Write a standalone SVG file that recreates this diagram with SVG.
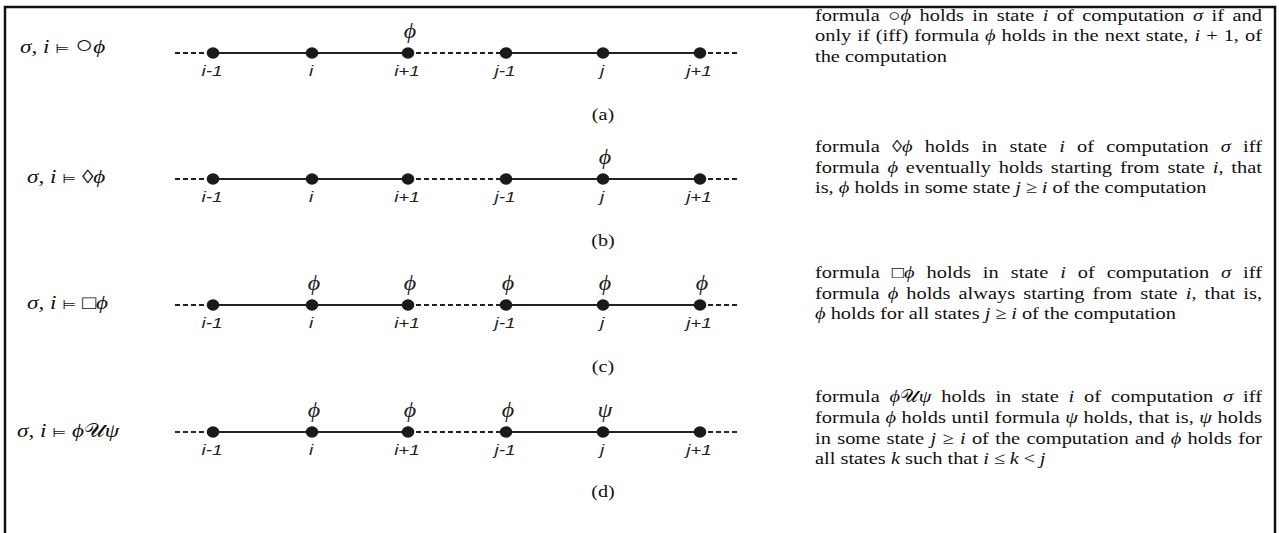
<svg xmlns="http://www.w3.org/2000/svg" width="1279" height="533" viewBox="0 0 1279 533">
<style>
.frame{stroke:#111;stroke-width:2.5;fill:none}
.solid{stroke:#222;stroke-width:1.8}
.dash{stroke:#222;stroke-width:1.8;stroke-dasharray:5 3}
.dot{fill:#1a1a1a}
.lbl{font-family:"Liberation Sans",Arial,sans-serif;font-style:italic;font-size:15.5px;text-anchor:middle;fill:#222}
.phi{font-family:"Liberation Serif","DejaVu Serif",serif;font-style:italic;font-size:20px;text-anchor:middle;fill:#222}
.cap{font-family:"Liberation Serif",serif;font-size:16.5px;text-anchor:middle;fill:#111}
.formula{font-family:"Liberation Serif","DejaVu Serif",serif;font-size:19px;fill:#111}
.desc{font-family:"Liberation Serif","DejaVu Serif",serif;font-size:17px;fill:#111}
.it{font-style:italic}
.mod{font-family:"DejaVu Sans",sans-serif;font-size:13px}
.big{font-size:25px}
</style>
<defs>
<ellipse id="dotshape" rx="6.3" ry="5.8" class="dot"/>
</defs>
<path class="frame" d="M5,533 V7 H1275 V533"/>

<g id="connectors">
<g id="conn-a"><line class="dash" x1="175" y1="53" x2="213" y2="53"/><line class="solid" x1="213" y1="53" x2="408" y2="53"/><line class="dash" x1="408" y1="53" x2="506" y2="53"/><line class="solid" x1="506" y1="53" x2="700" y2="53"/><line class="dash" x1="700" y1="53" x2="740" y2="53"/></g>
<g id="conn-b"><line class="dash" x1="175" y1="179" x2="213" y2="179"/><line class="solid" x1="213" y1="179" x2="408" y2="179"/><line class="dash" x1="408" y1="179" x2="506" y2="179"/><line class="solid" x1="506" y1="179" x2="700" y2="179"/><line class="dash" x1="700" y1="179" x2="740" y2="179"/></g>
<g id="conn-c"><line class="dash" x1="175" y1="305" x2="213" y2="305"/><line class="solid" x1="213" y1="305" x2="408" y2="305"/><line class="dash" x1="408" y1="305" x2="506" y2="305"/><line class="solid" x1="506" y1="305" x2="700" y2="305"/><line class="dash" x1="700" y1="305" x2="740" y2="305"/></g>
<g id="conn-d"><line class="dash" x1="175" y1="432" x2="213" y2="432"/><line class="solid" x1="213" y1="432" x2="408" y2="432"/><line class="dash" x1="408" y1="432" x2="506" y2="432"/><line class="solid" x1="506" y1="432" x2="700" y2="432"/><line class="dash" x1="700" y1="432" x2="740" y2="432"/></g>
</g>

<!-- Row (a) -->
<g id="row-a">
<text class="formula" transform="matrix(1.22 0 0 1 20 53)"><tspan class="it">σ</tspan>, <tspan class="it">i</tspan> <tspan class="mod">⊨</tspan> <tspan class="big">○</tspan><tspan class="it">ϕ</tspan></text>
<g id="a-n1"><use href="#dotshape" x="213" y="53"/><text class="lbl" transform="matrix(1.22 0 0 1 212 76)">i-1</text></g>
<g id="a-n2"><use href="#dotshape" x="312" y="53"/><text class="lbl" transform="matrix(1.22 0 0 1 311 76)">i</text></g>
<g id="a-n3"><use href="#dotshape" x="408" y="53"/><text class="lbl" transform="matrix(1.22 0 0 1 407 76)">i+1</text><text class="phi" transform="matrix(1.2 0 0 1 410 38)">ϕ</text></g>
<g id="a-n4"><use href="#dotshape" x="506" y="53"/><text class="lbl" transform="matrix(1.22 0 0 1 505 76)">j-1</text></g>
<g id="a-n5"><use href="#dotshape" x="603" y="53"/><text class="lbl" transform="matrix(1.22 0 0 1 602 76)">j</text></g>
<g id="a-n6"><use href="#dotshape" x="700" y="53"/><text class="lbl" transform="matrix(1.22 0 0 1 699 76)">j+1</text></g>
<text class="cap" transform="matrix(1.22 0 0 1 603 120)">(a)</text>
<text class="desc" transform="matrix(1.2 0 0 1 815 20.5)" word-spacing="2.75" textLength="372.5" lengthAdjust="spacing">formula ○<tspan class="it">ϕ</tspan> holds in state <tspan class="it">i</tspan> of computation <tspan class="it">σ</tspan> if and</text>
<text class="desc" transform="matrix(1.2 0 0 1 815 41)" word-spacing="0.76" textLength="372.5" lengthAdjust="spacing">only if (iff) formula <tspan class="it">ϕ</tspan> holds in the next state, <tspan class="it">i</tspan> + 1, of</text>
<text class="desc" transform="matrix(1.2 0 0 1 815 61.5)">the computation</text>
</g>

<!-- Row (b) -->
<g id="row-b">
<text class="formula" transform="matrix(1.22 0 0 1 27 183)"><tspan class="it">σ</tspan>, <tspan class="it">i</tspan> <tspan class="mod">⊨</tspan> ◊<tspan class="it">ϕ</tspan></text>
<g id="b-n1"><use href="#dotshape" x="213" y="179"/><text class="lbl" transform="matrix(1.22 0 0 1 212 202)">i-1</text></g>
<g id="b-n2"><use href="#dotshape" x="312" y="179"/><text class="lbl" transform="matrix(1.22 0 0 1 311 202)">i</text></g>
<g id="b-n3"><use href="#dotshape" x="408" y="179"/><text class="lbl" transform="matrix(1.22 0 0 1 407 202)">i+1</text></g>
<g id="b-n4"><use href="#dotshape" x="506" y="179"/><text class="lbl" transform="matrix(1.22 0 0 1 505 202)">j-1</text></g>
<g id="b-n5"><use href="#dotshape" x="603" y="179"/><text class="lbl" transform="matrix(1.22 0 0 1 602 202)">j</text><text class="phi" transform="matrix(1.2 0 0 1 605 164)">ϕ</text></g>
<g id="b-n6"><use href="#dotshape" x="700" y="179"/><text class="lbl" transform="matrix(1.22 0 0 1 699 202)">j+1</text></g>
<text class="cap" transform="matrix(1.22 0 0 1 603 246)">(b)</text>
<text class="desc" transform="matrix(1.2 0 0 1 815 152)" word-spacing="5.8" textLength="372.5" lengthAdjust="spacing">formula ◊<tspan class="it">ϕ</tspan> holds in state <tspan class="it">i</tspan> of computation <tspan class="it">σ</tspan> iff</text>
<text class="desc" transform="matrix(1.2 0 0 1 815 172.5)" word-spacing="2.3" textLength="372.5" lengthAdjust="spacing">formula <tspan class="it">ϕ</tspan> eventually holds starting from state <tspan class="it">i</tspan>, that</text>
<text class="desc" transform="matrix(1.2 0 0 1 815 193)">is, <tspan class="it">ϕ</tspan> holds in some state <tspan class="it">j</tspan><tspan dx="4">≥</tspan><tspan class="it" dx="4">i</tspan> of the computation</text>
</g>

<!-- Row (c) -->
<g id="row-c">
<text class="formula" transform="matrix(1.22 0 0 1 27 309)"><tspan class="it">σ</tspan>, <tspan class="it">i</tspan> <tspan class="mod">⊨</tspan> □<tspan class="it">ϕ</tspan></text>
<g id="c-n1"><use href="#dotshape" x="213" y="305"/><text class="lbl" transform="matrix(1.22 0 0 1 212 328)">i-1</text></g>
<g id="c-n2"><use href="#dotshape" x="312" y="305"/><text class="lbl" transform="matrix(1.22 0 0 1 311 328)">i</text><text class="phi" transform="matrix(1.2 0 0 1 314 290)">ϕ</text></g>
<g id="c-n3"><use href="#dotshape" x="408" y="305"/><text class="lbl" transform="matrix(1.22 0 0 1 407 328)">i+1</text><text class="phi" transform="matrix(1.2 0 0 1 410 290)">ϕ</text></g>
<g id="c-n4"><use href="#dotshape" x="506" y="305"/><text class="lbl" transform="matrix(1.22 0 0 1 505 328)">j-1</text><text class="phi" transform="matrix(1.2 0 0 1 508 290)">ϕ</text></g>
<g id="c-n5"><use href="#dotshape" x="603" y="305"/><text class="lbl" transform="matrix(1.22 0 0 1 602 328)">j</text><text class="phi" transform="matrix(1.2 0 0 1 605 290)">ϕ</text></g>
<g id="c-n6"><use href="#dotshape" x="700" y="305"/><text class="lbl" transform="matrix(1.22 0 0 1 699 328)">j+1</text><text class="phi" transform="matrix(1.2 0 0 1 702 290)">ϕ</text></g>
<text class="cap" transform="matrix(1.22 0 0 1 603 372)">(c)</text>
<text class="desc" transform="matrix(1.2 0 0 1 815 278)" word-spacing="5.6" textLength="372.5" lengthAdjust="spacing">formula □<tspan class="it">ϕ</tspan> holds in state <tspan class="it">i</tspan> of computation <tspan class="it">σ</tspan> iff</text>
<text class="desc" transform="matrix(1.2 0 0 1 815 298.5)" word-spacing="2.5" textLength="372.5" lengthAdjust="spacing">formula <tspan class="it">ϕ</tspan> holds always starting from state <tspan class="it">i</tspan>, that is,</text>
<text class="desc" transform="matrix(1.2 0 0 1 815 319)"><tspan class="it">ϕ</tspan> holds for all states <tspan class="it">j</tspan><tspan dx="4">≥</tspan><tspan class="it" dx="4">i</tspan> of the computation</text>
</g>

<!-- Row (d) -->
<g id="row-d">
<text class="formula" transform="matrix(1.22 0 0 1 17 437)"><tspan class="it">σ</tspan>, <tspan class="it">i</tspan> <tspan class="mod">⊨</tspan> <tspan class="it">ϕ</tspan>𝒰<tspan class="it">ψ</tspan></text>
<g id="d-n1"><use href="#dotshape" x="213" y="432"/><text class="lbl" transform="matrix(1.22 0 0 1 212 455)">i-1</text></g>
<g id="d-n2"><use href="#dotshape" x="312" y="432"/><text class="lbl" transform="matrix(1.22 0 0 1 311 455)">i</text><text class="phi" transform="matrix(1.2 0 0 1 314 417)">ϕ</text></g>
<g id="d-n3"><use href="#dotshape" x="408" y="432"/><text class="lbl" transform="matrix(1.22 0 0 1 407 455)">i+1</text><text class="phi" transform="matrix(1.2 0 0 1 410 417)">ϕ</text></g>
<g id="d-n4"><use href="#dotshape" x="506" y="432"/><text class="lbl" transform="matrix(1.22 0 0 1 505 455)">j-1</text><text class="phi" transform="matrix(1.2 0 0 1 508 417)">ϕ</text></g>
<g id="d-n5"><use href="#dotshape" x="603" y="432"/><text class="lbl" transform="matrix(1.22 0 0 1 602 455)">j</text><text class="phi" transform="matrix(1.2 0 0 1 605 417)">ψ</text></g>
<g id="d-n6"><use href="#dotshape" x="700" y="432"/><text class="lbl" transform="matrix(1.22 0 0 1 699 455)">j+1</text></g>
<text class="cap" transform="matrix(1.22 0 0 1 603 497)">(d)</text>
<text class="desc" transform="matrix(1.2 0 0 1 815 402)" word-spacing="3.9" textLength="372.5" lengthAdjust="spacing">formula <tspan class="it">ϕ</tspan>𝒰<tspan class="it">ψ</tspan> holds in state <tspan class="it">i</tspan> of computation <tspan class="it">σ</tspan> iff</text>
<text class="desc" transform="matrix(1.2 0 0 1 815 423)" word-spacing="0.25" textLength="372.5" lengthAdjust="spacing">formula <tspan class="it">ϕ</tspan> holds until formula <tspan class="it">ψ</tspan> holds, that is, <tspan class="it">ψ</tspan> holds</text>
<text class="desc" transform="matrix(1.2 0 0 1 815 443.5)" word-spacing="1" textLength="372.5" lengthAdjust="spacing">in some state <tspan class="it">j</tspan> ≥ <tspan class="it">i</tspan> of the computation and <tspan class="it">ϕ</tspan> holds for</text>
<text class="desc" transform="matrix(1.2 0 0 1 815 464)">all states <tspan class="it">k</tspan> such that <tspan class="it">i</tspan><tspan dx="4">≤</tspan><tspan class="it" dx="4">k</tspan><tspan dx="4">&lt;</tspan><tspan class="it" dx="4">j</tspan></text>
</g>
</svg>
